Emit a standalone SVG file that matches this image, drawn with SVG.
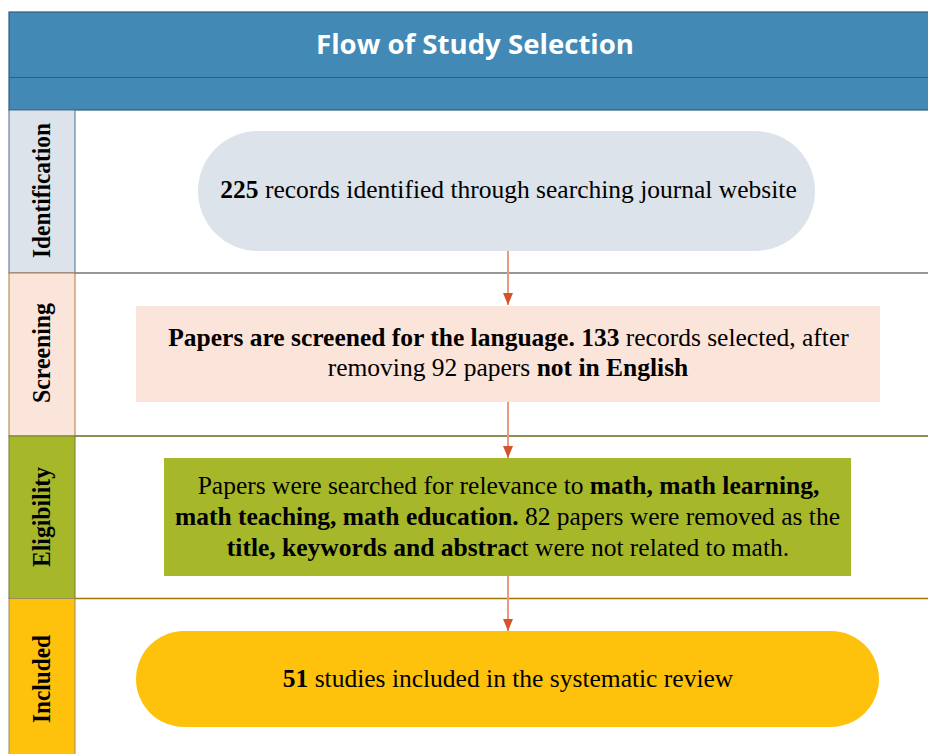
<svg xmlns="http://www.w3.org/2000/svg" width="928" height="754" viewBox="0 0 928 754">
<defs>
<style>
.conn{stroke:#E99A80;stroke-width:2;fill:none}
</style>
<marker id="ah" viewBox="0 0 12 10" refX="12" refY="5" markerWidth="12" markerHeight="10" markerUnits="userSpaceOnUse" orient="auto">
<path d="M0,0 L12,5 L0,10 Z" fill="#D5532B"/>
</marker>
</defs>
<rect width="928" height="754" fill="#fff"/>
<g id="header">
<rect x="9" y="12" width="925" height="98" fill="#4389B5" stroke="#2E5E80" stroke-width="1.2"/>
<line x1="9" y1="77.5" x2="928" y2="77.5" stroke="#2E5E80" stroke-width="1.2"/>
<text x="475" y="54" font-family="'Open Sans','Liberation Sans',sans-serif" font-weight="bold" font-size="26" fill="#fff" text-anchor="middle" textLength="318" lengthAdjust="spacingAndGlyphs">Flow of Study Selection</text>
</g>
<g id="rows">
<line x1="75" y1="273" x2="928" y2="273" stroke="#6F7770" stroke-width="1.5"/>
<line x1="75" y1="436" x2="928" y2="436" stroke="#6B6A1E" stroke-width="1.5"/>
<line x1="75" y1="598.5" x2="928" y2="598.5" stroke="#9A7700" stroke-width="1.5"/>
</g>
<g font-family="Liberation Serif" font-weight="bold" font-size="25" text-anchor="middle">
<g id="lane-identification">
<rect x="9" y="110" width="66" height="163" fill="#DCE3EA" stroke="#4E6E8E" stroke-width="1"/>
<text transform="translate(50,190.5) rotate(-90)" textLength="135" lengthAdjust="spacingAndGlyphs">Identification</text>
</g>
<g id="lane-screening">
<rect x="9" y="273" width="66" height="163" fill="#FBE4DA" stroke="#B47A3C" stroke-width="1"/>
<text transform="translate(50,353) rotate(-90)" textLength="100" lengthAdjust="spacingAndGlyphs">Screening</text>
</g>
<g id="lane-eligibility">
<rect x="9" y="436" width="66" height="162.5" fill="#A6B82A" stroke="#6E7A2A" stroke-width="1"/>
<text transform="translate(50,517) rotate(-90)" textLength="100" lengthAdjust="spacingAndGlyphs">Eligibility</text>
</g>
<g id="lane-included">
<rect x="9" y="598.5" width="66" height="160" fill="#FEC20C" stroke="#A08A5A" stroke-width="1"/>
<text transform="translate(50,679) rotate(-90)" textLength="88" lengthAdjust="spacingAndGlyphs">Included</text>
</g>
</g>
<g id="connectors">
<line class="conn" x1="508" y1="251" x2="508" y2="305" marker-end="url(#ah)"/>
<line class="conn" x1="508" y1="402" x2="508" y2="458" marker-end="url(#ah)"/>
<line class="conn" x1="508" y1="576" x2="508" y2="631" marker-end="url(#ah)"/>
</g>
<g font-family="Liberation Serif" font-size="25.5" text-anchor="middle" fill="#000">
<g id="node-identification">
<rect x="198" y="131" width="617" height="120" rx="60" ry="60" fill="#DCE3EA"/>
<text x="508.5" y="198"><tspan font-weight="bold">225</tspan> records identified through  searching journal website</text>
</g>
<g id="node-screening">
<rect x="136" y="306" width="744" height="96" fill="#FBE4DA"/>
<text x="508.5" y="346"><tspan font-weight="bold">Papers are screened for the language. 133</tspan>  records selected, after</text>
<text x="508" y="376">removing 92 papers <tspan font-weight="bold">not in English</tspan></text>
</g>
<g id="node-eligibility">
<rect x="164" y="458" width="687" height="118" fill="#A6B82A"/>
<text x="508.5" y="494">Papers  were searched for relevance to <tspan font-weight="bold">math, math learning,</tspan></text>
<text x="507.5" y="525"><tspan font-weight="bold">math teaching, math education.</tspan> 82 papers were removed as the</text>
<text x="508" y="556"><tspan font-weight="bold">title, keywords and abstrac</tspan>t were not related to math.</text>
</g>
<g id="node-included">
<rect x="136" y="631" width="743" height="96" rx="48" ry="48" fill="#FEC20C"/>
<text x="508" y="687"><tspan font-weight="bold">51</tspan> studies included in the systematic review</text>
</g>
</g>
</svg>
